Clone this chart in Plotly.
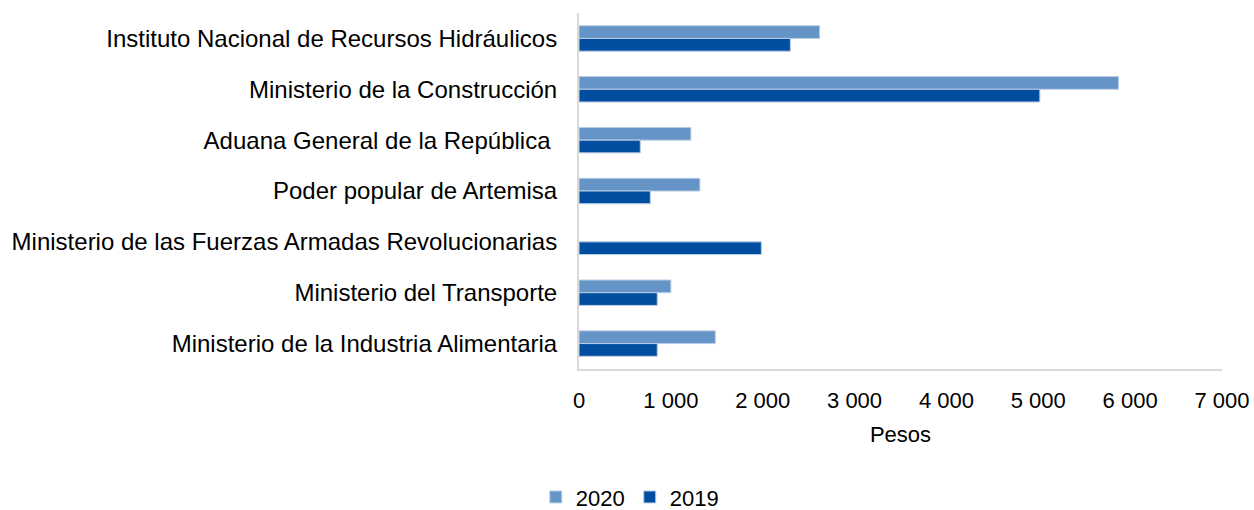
import plotly.graph_objects as go

categorias = [
    "Instituto Nacional de Recursos Hidráulicos",
    "Ministerio de la Construcción",
    "Aduana General de la República ",
    "Poder popular de Artemisa",
    "Ministerio de las Fuerzas Armadas Revolucionarias",
    "Ministerio del Transporte",
    "Ministerio de la Industria Alimentaria",
]
valores_2020 = [2620, 5874, 1218, 1316, None, 1000, 1484]
valores_2019 = [2301, 5017, 667, 776, 1985, 852, 852]
tick_vals = [0, 1000, 2000, 3000, 4000, 5000, 6000, 7000]
tick_text = ["0", "1 000", "2 000", "3 000", "4 000", "5 000", "6 000", "7 000"]

fig = go.Figure()
fig.add_trace(go.Bar(name="2020", y=categorias, x=valores_2020, orientation="h",
                     marker=dict(color="#6595C6", line=dict(color="#B9CDE6", width=1))))
fig.add_trace(go.Bar(name="2019", y=categorias, x=valores_2019, orientation="h",
                     marker=dict(color="#014EA0", line=dict(color="#B9CDE6", width=1))))

fig.update_layout(
    width=1254, height=510,
    barmode="group", bargap=0.5, bargroupgap=0,
    paper_bgcolor="white", plot_bgcolor="white",
    font=dict(family="Liberation Sans, Arial, sans-serif", size=22, color="#000000"),
    margin=dict(l=579, r=32, t=13, b=141, autoexpand=False),
    xaxis=dict(
        range=[0, 7000], tickvals=tick_vals, ticktext=tick_text,
        showgrid=False, zeroline=False, automargin=False,
        showline=True, linecolor="#D9D9D9", linewidth=2,
        ticks="outside", ticklen=11, tickcolor="rgba(0,0,0,0)",
        tickfont=dict(size=22),
        title=dict(text="Pesos", font=dict(size=22), standoff=14),
    ),
    yaxis=dict(
        autorange="reversed", showgrid=False, automargin=False,
        showline=True, linecolor="#D9D9D9", linewidth=2,
        ticks="outside", ticklen=15, tickcolor="rgba(0,0,0,0)",
        tickfont=dict(size=24),
    ),
    legend=dict(
        orientation="h", xref="paper", yref="paper",
        x=0.079, xanchor="center", y=-0.36, yanchor="middle",
        font=dict(size=22), itemwidth=30, traceorder="normal",
    ),
)

# quitar el margen por defecto del body para que la figura quede en (0, 0)
fig.write_html("out.html", config={"displayModeBar": False},
               post_script="document.body.style.margin='0';")
